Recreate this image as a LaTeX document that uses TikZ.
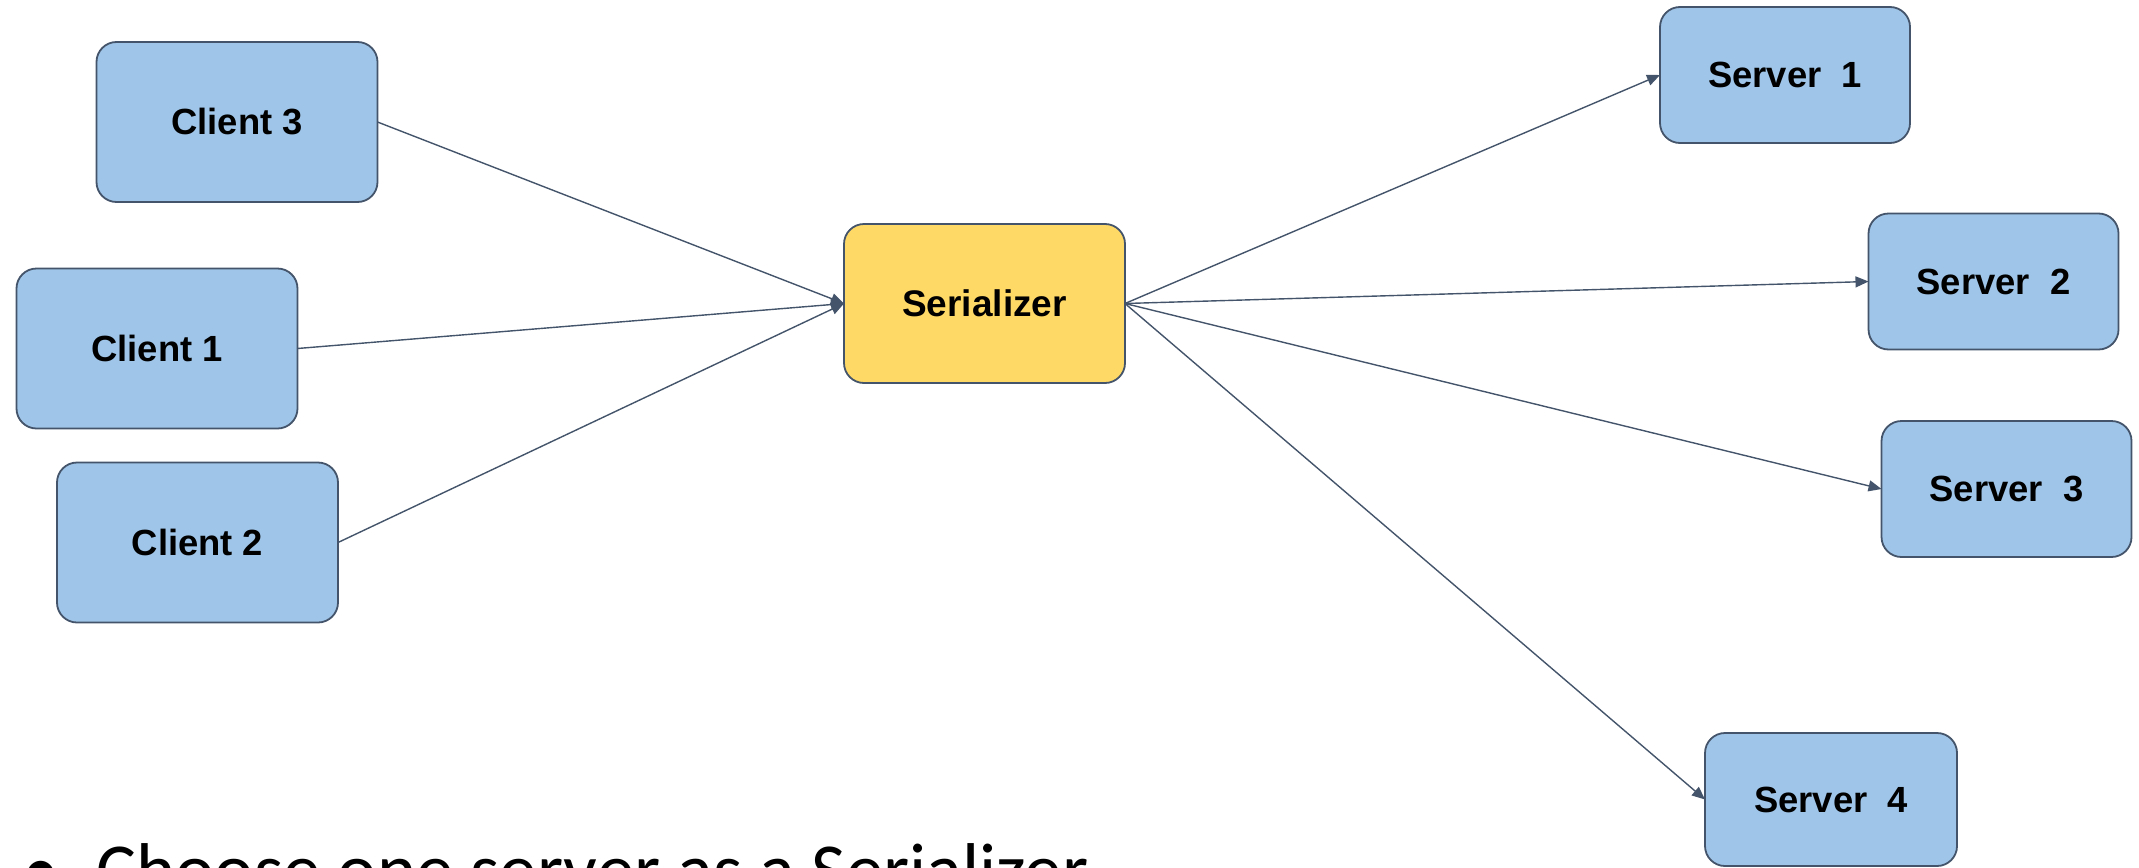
\documentclass[tikz,border=0pt]{standalone}
\usepackage{fontspec}
\setmainfont{Liberation Sans}
\newfontfamily\bodyfont{Carlito}
\usetikzlibrary{arrows.meta}
\definecolor{boxblue}{HTML}{9FC5E8}
\definecolor{boxyellow}{HTML}{FFD966}
\definecolor{edgecol}{HTML}{44546A}
\tikzset{
  box/.style={draw=edgecol, line width=0.9pt, rounded corners=10pt, inner sep=0pt, outer sep=0pt,
    font=\fontsize{18.2}{20}\selectfont\bfseries, text=black},
  clientbox/.style={box, fill=boxblue, minimum width=140.5pt, minimum height=80pt},
  serverbox/.style={box, fill=boxblue, minimum width=125pt, minimum height=68pt},
  serbox/.style={box, fill=boxyellow, minimum width=140.5pt, minimum height=79.5pt, font=\fontsize{18.5}{20}\selectfont\bfseries},
  link/.style={draw=edgecol, line width=0.7pt, -{Triangle[length=6.5pt,width=5.5pt]}}
}
\begin{document}
\begin{tikzpicture}[x=0.5pt,y=-0.5pt]
\useasboundingbox (0,0) rectangle (2139,867);
\clip (0,0) rectangle (2139,867);
\node[clientbox] (c3) at (237,122) {Client 3};
\node[clientbox] (c1) at (157,348.5) {Client 1};
\node[clientbox] (c2) at (197.5,542.5) {Client 2};
\node[serbox] (ser) at (984.5,303.5) {Serializer};
\node[serverbox] (s1) at (1785,75) {Server~~1};
\node[serverbox] (s2) at (1993.5,281.5) {Server~~2};
\node[serverbox] (s3) at (2006.5,489) {Server~~3};
\node[serverbox, minimum width=126pt, minimum height=66.5pt] (s4) at (1831,799.5) {Server~~4};
\draw[link] (c3.east) -- (ser.west);
\draw[link] (c1.east) -- (ser.west);
\draw[link] (c2.east) -- (ser.west);
\draw[link] (ser.east) -- (s1.west);
\draw[link] (ser.east) -- (s2.west);
\draw[link] (ser.east) -- (s3.west);
\draw[link] (ser.east) -- (s4.west);
\node[anchor=base west, inner sep=0pt, font=\bodyfont\fontsize{37.4}{44}\selectfont] (bul) at (22,895) {•};
\node[anchor=base west, inner sep=0pt, font=\bodyfont\fontsize{37.4}{44}\selectfont] (txt) at (96,895) {Choose one server as a Serializer};
\end{tikzpicture}
\end{document}
